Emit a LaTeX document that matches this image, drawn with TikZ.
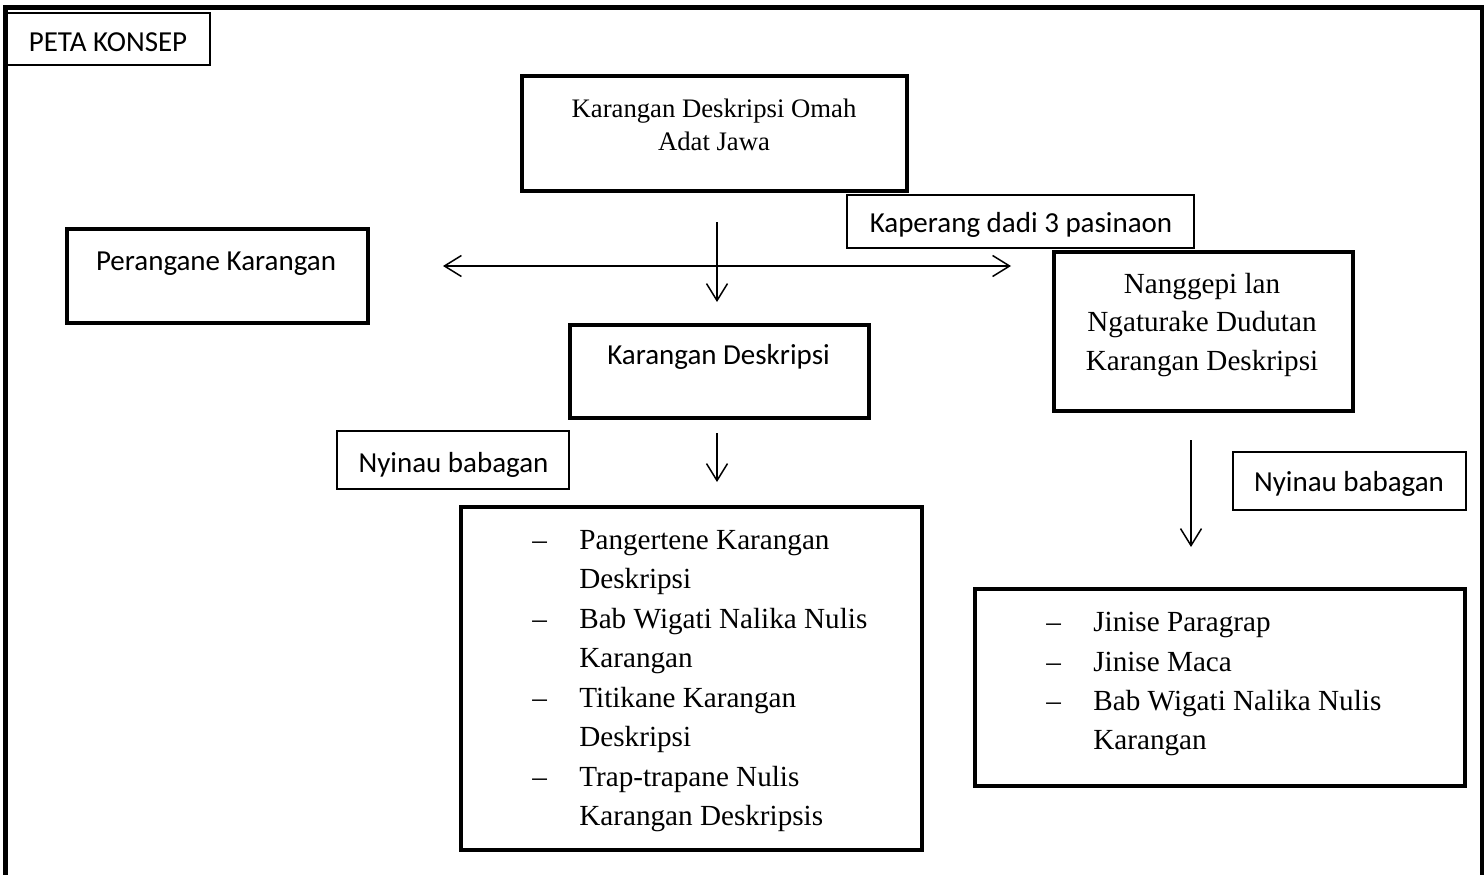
\documentclass[tikz,border=0pt]{standalone}
\usepackage{fontspec}
\setmainfont{Liberation Serif}
\newfontfamily\calibrifont{Carlito}
\usepackage{tikz}
\usetikzlibrary{arrows.meta}
\newlength\pxu
\setlength\pxu{0.02cm}
\newcommand\itemdash{\makebox[47\pxu][l]{–}}
\newcommand\itemgap{\hspace*{47\pxu}}

\begin{document}
\begin{tikzpicture}[x=0.02cm,y=-0.02cm,
	>={Straight Barb[length=0.34cm,width=0.42cm]},
	bigbox/.style={draw,line width=0.08cm,inner sep=0pt},
	smallbox/.style={draw,line width=0.026cm,inner sep=0pt},
	sans/.style={font={\calibrifont\fontsize{16.5}{20}\selectfont},inner sep=0pt,anchor=base},
	serif/.style={inner sep=0pt,align=center},
	listtext/.style={font={\fontsize{16.6}{22.5}\selectfont},inner sep=0pt,align=left,anchor=west},
	link/.style={line width=0.03cm,->}]
	\useasboundingbox (0,0) rectangle (1484,875);
	\draw[line width=0.1cm] (5.5,880) -- (5.5,8) -- (1482,8) -- (1482,880);
	
	\node[smallbox,minimum width=204\pxu,minimum height=52\pxu] (peta) at (108,39) {};
	\node[sans] (petatext) at (108,52) {PETA KONSEP};
	
	\node[bigbox,minimum width=385\pxu,minimum height=115\pxu] (judul) at (714.5,133.5) {};
	\node[serif,font={\fontsize{15.2}{18.8}\selectfont}] (judultext) at (714,124.6) {Karangan Deskripsi Omah\\Adat Jawa};
	
	\node[smallbox,fill=white,minimum width=347\pxu,minimum height=53\pxu] (kaperang) at (1020.5,221.5) {};
	\node[sans] (kaperangtext) at (1021,232) {Kaperang dadi 3 pasinaon};
	
	\node[bigbox,minimum width=301\pxu,minimum height=94\pxu] (perangane) at (217.5,276) {};
	\node[sans] (peranganetext) at (216,270) {Perangane Karangan};
	
	\node[bigbox,minimum width=299\pxu,minimum height=93\pxu] (deskripsi) at (719.5,371.5) {};
	\node[sans] (deskripsitext) at (718.5,364) {Karangan Deskripsi};
	
	\node[bigbox,minimum width=299\pxu,minimum height=159\pxu] (nanggepi) at (1203.5,331.5) {};
	\node[serif,font={\fontsize{16.6}{21.9}\selectfont}] (nanggepitext) at (1202,324.75) {Nanggepi lan\\Ngaturake Dudutan\\Karangan Deskripsi};
	
	\node[smallbox,minimum width=232\pxu,minimum height=58\pxu] (nyinaukiwa) at (453,460) {};
	\node[sans] (nyinaukiwatext) at (453.5,472) {Nyinau babagan};
	\node[smallbox,minimum width=233\pxu,minimum height=58\pxu] (nyinautengen) at (1349.5,481) {};
	\node[sans] (nyinautengentext) at (1349,491) {Nyinau babagan};
	
	\node[bigbox,minimum width=461\pxu,minimum height=343\pxu] (materikiwa) at (691.5,678.5) {};
	\node[listtext] (materikiwatext) at (532,681) {\itemdash Pangertene Karangan\\\itemgap Deskripsi\\\itemdash Bab Wigati Nalika Nulis\\\itemgap Karangan\\\itemdash Titikane Karangan\\\itemgap Deskripsi\\\itemdash Trap-trapane Nulis\\\itemgap Karangan Deskripsis};
	
	\node[bigbox,minimum width=490\pxu,minimum height=197\pxu] (materitengen) at (1220,687.5) {};
	\node[listtext,font={\fontsize{16.6}{22.35}\selectfont}] (materitengentext) at (1046,684.3) {\itemdash Jinise Paragrap\\\itemdash Jinise Maca\\\itemdash Bab Wigati Nalika Nulis\\\itemgap Karangan};
	
	\coordinate (panah1a) at (717,222);
	\coordinate (panah1b) at (717,302);
	\coordinate (kiwa) at (443,266);
	\coordinate (tengen) at (1011,266);
	\coordinate (panah2a) at (717,433);
	\coordinate (panah2b) at (717,482);
	\coordinate (panah3a) at (1191,440);
	\coordinate (panah3b) at (1191,547);
	
	\draw[link] (panah1a) -- (panah1b);
	\draw[link,<->] (kiwa) -- (tengen);
	\draw[link] (panah2a) -- (panah2b);
	\draw[link] (panah3a) -- (panah3b);
\end{tikzpicture}
\end{document}
